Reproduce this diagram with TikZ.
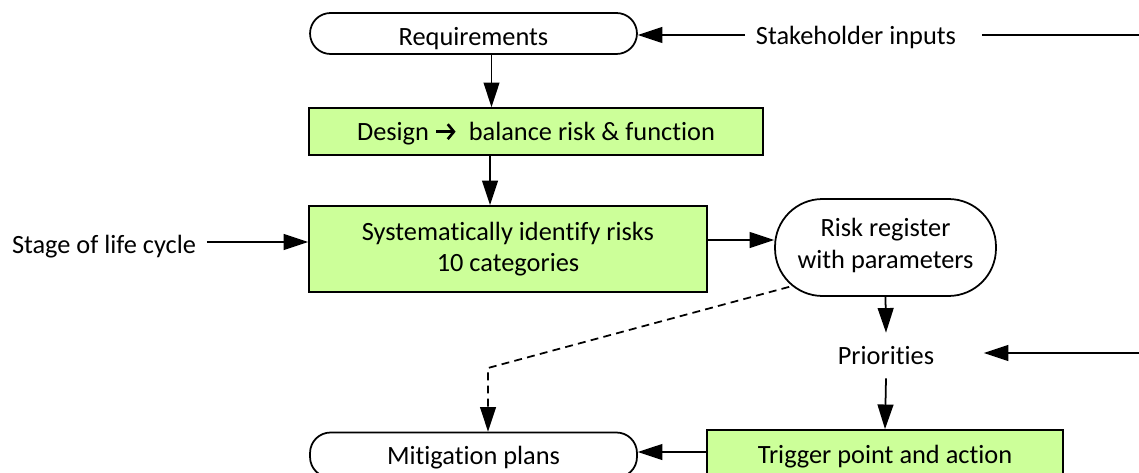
\documentclass[tikz,border=0pt]{standalone}
\usepackage{fontspec}
\setmainfont{Carlito}[Ligatures=NoCommon]
\usetikzlibrary{arrows.meta,calc}
\definecolor{rkgreen}{HTML}{CCFF99}

\newcommand{\thickto}{\tikz[baseline=0pt]\draw[line width=1.5pt, -{Straight Barb[length=3.5pt,width=8.5pt]}] (0pt,5pt) -- (11pt,5pt);}

\tikzset{
    flow/.style={line width=1pt, -{Triangle[length=14pt,width=9pt]}},
    term/.style={draw, line width=1pt, rounded corners=0.41cm, inner sep=0pt},
    greenbox/.style={draw, line width=1pt, fill=rkgreen, inner sep=0pt, align=center},
    plain/.style={inner sep=0pt, align=center},
    lowtext/.style={text height=#1, text depth=0pt},
}

\begin{document}
\begin{tikzpicture}[x=0.02cm, y=-0.02cm, font=\fontsize{15}{18}\selectfont]
    \useasboundingbox (0,0) rectangle (1139,473);

    \node[term, lowtext=13.6pt, minimum width=6.54cm, minimum height=0.82cm] (req) at (473.5,33.5)
      {Requirements};
    \node[greenbox, lowtext=10.2pt, minimum width=9.08cm, minimum height=0.94cm] (des) at (536,131.5)
      {Design \thickto\ \ balance risk \& function};
    \node[greenbox, minimum width=7.96cm, minimum height=1.72cm] (sys) at (508,249)
      {Systematically identify risks\\10 categories};
    \node[term, rounded corners=0.95cm, align=center, text depth=4.5pt, minimum width=4.42cm,
      minimum height=1.94cm] (reg) at (885.5,247.5) {Risk register\\with parameters};
    \node[plain, minimum width=3.9cm, minimum height=0.9cm] (prio) at (886,355.5) {Priorities};
    \node[greenbox, minimum width=7.12cm, minimum height=1.08cm] (trig) at (885,457)
      {Trigger point and action};
    \node[term, lowtext=11.3pt, minimum width=6.54cm, minimum height=0.9cm] (mit) at (473.5,455)
      {Mitigation plans};

    \node[plain, inner xsep=6pt] (stake) at (856,37) {Stakeholder inputs};
    \node[plain, inner xsep=6pt] (stage) at (104,247) {Stage of life cycle};

    \coordinate (stakein) at (1139,35);
    \coordinate (prioin) at (1139,353);
    \coordinate (bend) at (488,368);

    \draw[flow] ([xshift=0.36cm]req.south) -- ([xshift=0.36cm]req.south |- des.north);
    \draw[flow] ([xshift=-0.92cm]des.south) -- ([xshift=-0.92cm]des.south |- sys.north);
    \draw[flow] (stake.west |- stakein) -- (stakein -| req.east);
    \draw[line width=1pt] ([xshift=0.3cm]stake.east |- stakein) -- (stakein);
    \draw[flow] (stage.east |- 0,242) -- (sys.west |- 0,242);
    \draw[flow] ([yshift=0.18cm]sys.east) -- ([yshift=0.18cm]sys.east -| reg.west);
    \draw[flow] (reg.south) -- (prio.north);
    \draw[flow] (prioin) -- (prioin -| prio.east);
    \draw[flow] (prio.south) -- (trig.north);
    \draw[flow] ([yshift=0.1cm]trig.west) -- ([yshift=0.1cm]trig.west -| mit.east);
    \draw[flow, dashed, dash pattern=on 4.5pt off 3pt]
      ([xshift=0.3cm,yshift=0.2cm]reg.south west) -- (bend) -- (bend |- mit.north);
\end{tikzpicture}
\end{document}
